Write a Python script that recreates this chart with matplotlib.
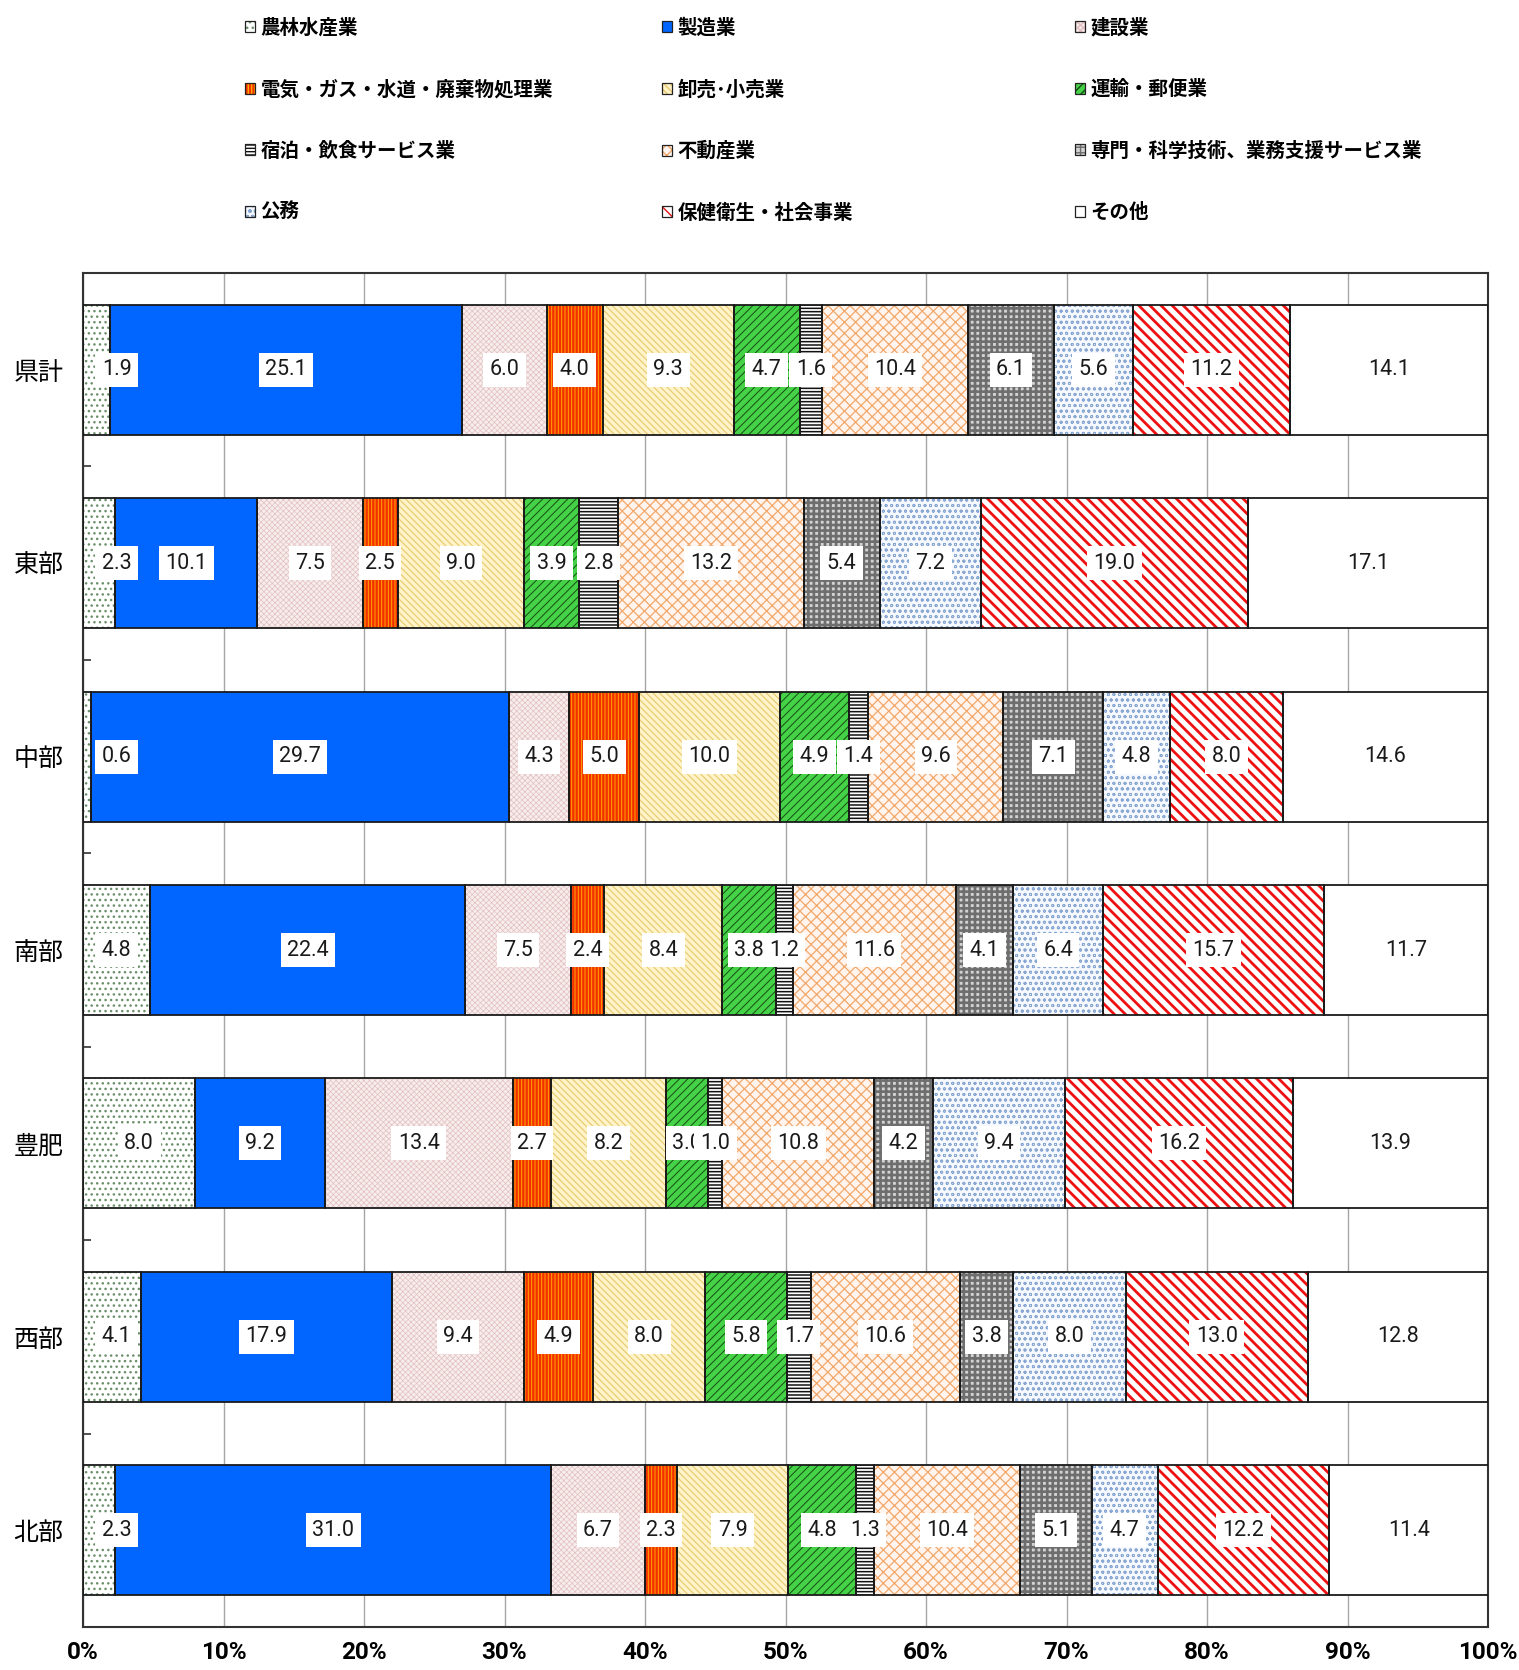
import matplotlib
matplotlib.use("Agg")
import matplotlib.pyplot as plt
import matplotlib.patches as mpatches
from matplotlib.legend_handler import HandlerTuple
from matplotlib import font_manager as fm
from matplotlib.ticker import FixedLocator
import numpy as np

plt.rcParams['font.family'] = ['Noto Sans CJK JP', 'DejaVu Sans']

# ---------------- data ----------------
regions = ['県計', '東部', '中部', '南部', '豊肥', '西部', '北部']
industries = ['農林水産業', '製造業', '建設業',
              '電気・ガス・水道・廃棄物処理業', '卸売･小売業', '運輸・郵便業',
              '宿泊・飲食サービス業', '不動産業', '専門・科学技術、業務支援サービス業',
              '公務', '保健衛生・社会事業', 'その他']

agri     = [1.9, 2.3, 0.6, 4.8, 8.0, 4.1, 2.3]
manuf    = [25.1, 10.1, 29.7, 22.4, 9.2, 17.9, 31.0]
constr   = [6.0, 7.5, 4.3, 7.5, 13.4, 9.4, 6.7]
utility  = [4.0, 2.5, 5.0, 2.4, 2.7, 4.9, 2.3]
trade    = [9.3, 9.0, 10.0, 8.4, 8.2, 8.0, 7.9]
transp   = [4.7, 3.9, 4.9, 3.8, 3.0, 5.8, 4.8]
lodging  = [1.6, 2.8, 1.4, 1.2, 1.0, 1.7, 1.3]
estate   = [10.4, 13.2, 9.6, 11.6, 10.8, 10.6, 10.4]
profess  = [6.1, 5.4, 7.1, 4.1, 4.2, 3.8, 5.1]
public   = [5.6, 7.2, 4.8, 6.4, 9.4, 8.0, 4.7]
health   = [11.2, 19.0, 8.0, 15.7, 16.2, 13.0, 12.2]
other    = [14.1, 17.1, 14.6, 11.7, 13.9, 12.8, 11.4]

series = [agri, manuf, constr, utility, trade, transp, lodging,
          estate, profess, public, health, other]

x_ticks = [0, 10, 20, 30, 40, 50, 60, 70, 80, 90, 100]
x_tick_labels = [f'{t}%' for t in x_ticks]

# ---------------- styles ----------------
# (facecolor, hatch, hatchcolor, hatch linewidth)
styles = [
    ('#ffffff', '...',      '#6a8f6a', 1.0),
    ('#0066ff', None,       '#0066ff', 1.0),
    ('#f8eded', 'xxxxxx',   '#e2c0c0', 0.5),
    ('#f23000', '|||||',    '#ffa800', 0.7),
    ('#fff3c8', '\\' * 5,   '#e8c870', 0.8),
    ('#46d246', '////',     '#164d16', 0.7),
    ('#ffffff', '-----',    '#111111', 1.1),
    ('#fff5ee', 'xxx',      '#f2a86a', 0.9),
    ('#d2d2d2', '+++',      '#6e6e6e', 1.9),
    ('#f5f8fc', 'ooo',      '#88a6d2', 0.6),
    ('#ffffff', '\\' * 3,   '#ee1111', 2.0),
    ('#ffffff', None,       '#ffffff', 1.0),
]

W, H = 1519, 1670
fig = plt.figure(figsize=(W / 100, H / 100), dpi=100)
ax_left, ax_right, ax_top, ax_bottom = 83, 1488, 273, 1627
ax = fig.add_axes([ax_left / W, 1 - ax_bottom / H,
                   (ax_right - ax_left) / W, (ax_bottom - ax_top) / H])

def font_available(name):
    try:
        fm.findfont(fm.FontProperties(family=name), fallback_to_default=False)
        return True
    except Exception:
        return False

narrow = font_available('Liberation Sans Narrow')
lab_family = ['Liberation Sans Narrow'] if narrow else ['Roboto', 'DejaVu Sans']
lab_size = 17 if narrow else 15.5
tick_size = 19 if narrow else 17.5

y = np.arange(len(regions))
bar_h = 0.672
left = np.zeros(len(regions))
handles = []
for i, (vals, st) in enumerate(zip(series, styles)):
    fc, hatch, hc, hlw = st
    vals = np.array(vals)
    with plt.rc_context({'hatch.linewidth': hlw}):
        bars = ax.barh(y, vals, left=left, height=bar_h, color=fc,
                       edgecolor=hc, linewidth=0, hatch=hatch, zorder=2)
    for p in bars:
        if hasattr(p, 'set_hatch_linewidth'):
            p.set_hatch_linewidth(hlw)
    ax.barh(y, vals, left=left, height=bar_h, fill=False,
            edgecolor='#1a1a1a', linewidth=1.3, zorder=3)
    for j, v in enumerate(vals):
        xc = left[j] + v / 2
        if i == 0:
            xc = max(xc, 2.4)
        ax.text(xc, y[j], f'{v:.1f}', ha='center', va='center',
                fontsize=lab_size, family=lab_family, color='#1a1a1a', zorder=5,
                bbox=dict(boxstyle='square,pad=0.3', facecolor='white',
                          edgecolor='none'))
    left = left + vals
    with plt.rc_context({'hatch.linewidth': hlw}):
        hp = mpatches.Patch(facecolor=fc, edgecolor=hc, linewidth=0, hatch=hatch)
    ho = mpatches.Patch(fill=False, edgecolor='#222222', linewidth=0.9)
    handles.append((hp, ho))

ax.set_xlim(0, 100)
ax.set_ylim(len(regions) - 0.5, -0.5)
ax.set_xticks(x_ticks)
ax.set_xticklabels(x_tick_labels, family=lab_family, fontsize=tick_size,
                   fontweight='bold')
ax.set_yticks(y)
ax.set_yticklabels(regions, fontsize=18)
ax.tick_params(axis='x', length=0, pad=10)
ax.tick_params(axis='y', which='major', length=0, pad=14)
ax.yaxis.set_minor_locator(FixedLocator(np.arange(0.5, len(regions) - 0.5, 1)))
ax.tick_params(axis='y', which='minor', direction='in', length=6, width=1.2,
               color='#333333')
ax.grid(axis='x', color='#a6a6a6', linewidth=1.0, zorder=0)
ax.set_axisbelow(True)
for s in ax.spines.values():
    s.set_color('#333333')
    s.set_linewidth(1.5)

# legend: three columns, row-major order
col_x = [245, 662, 1075]
for c in range(3):
    idx = [c, c + 3, c + 6, c + 9]
    fig.legend([handles[k] for k in idx], [industries[k] for k in idx],
               handler_map={tuple: HandlerTuple(ndivide=1, pad=0)},
               loc='upper left', bbox_to_anchor=(col_x[c] / W, 1 - 18 / H),
               frameon=False, borderpad=0, borderaxespad=0,
               handlelength=0.5, handleheight=0.5, handletextpad=0.3,
               labelspacing=2.18, prop={'size': 14, 'weight': 'bold'})

fig.savefig('out.png', dpi=100)
